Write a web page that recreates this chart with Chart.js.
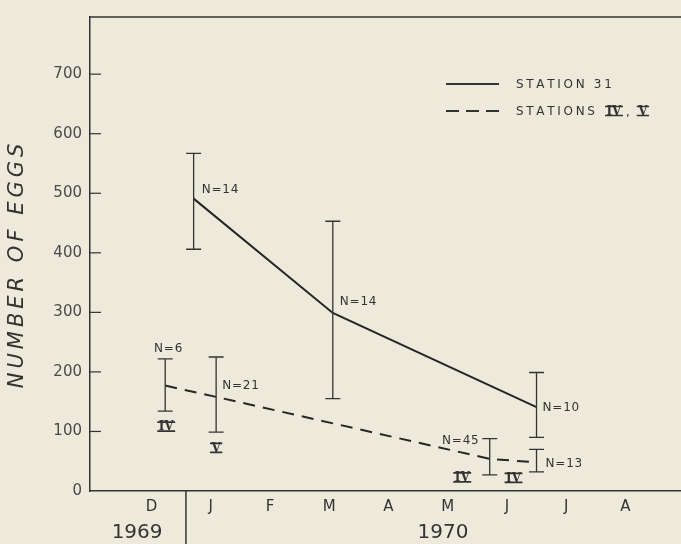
<!DOCTYPE html>
<html>
<head>
<meta charset="utf-8">
<script src="https://cdn.jsdelivr.net/npm/chart.js@4.4.1/dist/chart.umd.min.js"></script>
<style>
  html, body { margin: 0; padding: 0; background: #eeeadb; }
  #wrap { width: 681px; height: 544px; }
</style>
</head>
<body>
<div id="wrap"><canvas id="eggChart" width="681" height="544"></canvas></div>
<script>
// x axis in months, Dec 1969 = 0
const monthLabels = ['D', 'J', 'F', 'M', 'A', 'M', 'J', 'J', 'A'];
const monthTicks = [0, 1, 2, 3, 4, 5, 6, 7, 8];
const yTicks = [0, 100, 200, 300, 400, 500, 600, 700];

// Station 31 (solid line)
const st31X = [0.71, 3.06, 6.50];
const st31Mean = [491, 299, 141];
const st31High = [567, 453, 199];
const st31Low = [406, 155, 90];
const st31N = ['N=14', 'N=14', 'N=10'];

// Stations IV, V (dashed line)
const st45X = [0.23, 1.09, 5.71, 6.50];
const st45Mean = [177, 158, 54, 48];
const st45High = [222, 225, 88, 70];
const st45Low = [134, 99, 27, 32];
const st45N = ['N=6', 'N=21', 'N=45', 'N=13'];
const st45Station = ['IV', 'V', 'IV', 'IV'];

const yearLabels = ['1969', '1970'];
const yearX = [-0.245, 4.92];
const yearBreak = 0.58;

const ink = '#333';

// label placement relative to each point (px)
const st31NPos = [[8, -9, 'left'], [7, -11, 'left'], [6, 1, 'left']];
const st45NPos = [[3, -37, 'center'], [6, -11, 'left'], [-11, -18, 'right'], [9, 1, 'left']];
const st45RomanPos = [[1, 41], [0, 51], [-27.5, 18.5], [-23, 15.5]];

function spacedText(ctx, text, x, y, gap, align) {
    let total = 0;
    for (const ch of text) total += ctx.measureText(ch).width + gap;
    total -= gap;
    let cx = align === 'center' ? x - total / 2 : align === 'right' ? x - total : x;
    ctx.textAlign = 'left';
    for (const ch of text) {
        ctx.fillText(ch, cx, y);
        cx += ctx.measureText(ch).width + gap;
    }
    return total;
}

// roman numeral with bars above and below
function roman(ctx, text, cx, cy) {
    ctx.save();
    ctx.font = 'bold 12px "DejaVu Serif"';
    ctx.textAlign = 'center';
    ctx.textBaseline = 'middle';
    const w = ctx.measureText(text).width;
    ctx.fillText(text, cx, cy + 0.5);
    ctx.lineWidth = 1.6;
    ctx.beginPath();
    ctx.moveTo(cx - w / 2 - 1.5, cy - 4.5);
    ctx.lineTo(cx + w / 2 + 1.5, cy - 4.5);
    ctx.moveTo(cx - w / 2 - 1.5, cy + 4.5);
    ctx.lineTo(cx + w / 2 + 1.5, cy + 4.5);
    ctx.stroke();
    ctx.restore();
    return w + 3;
}

const paperPlugin = {
    id: 'paper',
    beforeDraw(chart) {
        const ctx = chart.ctx;
        ctx.save();
        ctx.fillStyle = '#eeeadb';
        ctx.fillRect(0, 0, chart.width, chart.height);
        ctx.restore();
    },
    afterDraw(chart) {
        const ctx = chart.ctx;
        const xs = chart.scales.x;
        const ys = chart.scales.y;
        const area = chart.chartArea;
        ctx.save();
        ctx.strokeStyle = ink;
        ctx.fillStyle = ink;

        // top frame line
        ctx.lineWidth = 1.5;
        ctx.beginPath();
        ctx.moveTo(area.left, area.top);
        ctx.lineTo(area.right, area.top);
        ctx.stroke();

        // inward y tick marks
        ctx.lineWidth = 1.2;
        yTicks.forEach(v => {
            if (v === 0) return;
            const py = ys.getPixelForValue(v);
            ctx.beginPath();
            ctx.moveTo(area.left, py);
            ctx.lineTo(area.left + 11, py);
            ctx.stroke();
        });

        // error bars
        const bars = (xArr, lo, hi) => {
            xArr.forEach((x, i) => {
                const px = xs.getPixelForValue(x);
                const pl = ys.getPixelForValue(lo[i]);
                const ph = ys.getPixelForValue(hi[i]);
                ctx.beginPath();
                ctx.moveTo(px, pl); ctx.lineTo(px, ph);
                ctx.moveTo(px - 7.5, pl); ctx.lineTo(px + 7.5, pl);
                ctx.moveTo(px - 7.5, ph); ctx.lineTo(px + 7.5, ph);
                ctx.stroke();
            });
        };
        ctx.lineWidth = 1.3;
        bars(st31X, st31Low, st31High);
        bars(st45X, st45Low, st45High);

        // N labels
        ctx.font = '12px "DejaVu Sans"';
        ctx.textBaseline = 'middle';
        const nLabels = (xArr, yArr, texts, pos) => {
            texts.forEach((t, i) => {
                const px = xs.getPixelForValue(xArr[i]);
                const py = ys.getPixelForValue(yArr[i]);
                spacedText(ctx, t, px + pos[i][0], py + pos[i][1], 0.8, pos[i][2]);
            });
        };
        nLabels(st31X, st31Mean, st31N, st31NPos);
        nLabels(st45X, st45Mean, st45N, st45NPos);

        // station numerals under dashed series
        st45Station.forEach((t, i) => {
            const px = xs.getPixelForValue(st45X[i]);
            const py = ys.getPixelForValue(st45Mean[i]);
            roman(ctx, t, px + st45RomanPos[i][0], py + st45RomanPos[i][1]);
        });

        // year separator and year labels
        ctx.lineWidth = 1.5;
        const bx = xs.getPixelForValue(yearBreak);
        ctx.beginPath();
        ctx.moveTo(bx, area.bottom);
        ctx.lineTo(bx, chart.height);
        ctx.stroke();
        ctx.font = '20px "DejaVu Sans"';
        ctx.textAlign = 'center';
        ctx.textBaseline = 'middle';
        yearLabels.forEach((t, i) => {
            ctx.fillText(t, xs.getPixelForValue(yearX[i]), 533);
        });

        // legend
        ctx.lineWidth = 1.8;
        ctx.beginPath();
        ctx.moveTo(446, 84); ctx.lineTo(499, 84);
        ctx.stroke();
        ctx.setLineDash([13, 7]);
        ctx.beginPath();
        ctx.moveTo(446, 111); ctx.lineTo(499, 111);
        ctx.stroke();
        ctx.setLineDash([]);
        ctx.font = '12px "DejaVu Sans"';
        ctx.textBaseline = 'middle';
        spacedText(ctx, chart.data.datasets[0].label, 516, 84.5, 2.7, 'left');
        const w = spacedText(ctx, 'STATIONS', 516, 111.5, 2.7, 'left');
        let lx = 516 + w + 10;
        lx += roman(ctx, 'IV', lx + 9, 111) + 2;
        ctx.font = '12px "DejaVu Sans"';
        ctx.textAlign = 'left';
        ctx.fillText(',', lx + 1, 113);
        roman(ctx, 'V', lx + 18, 111);

        // y axis title
        ctx.translate(18, 266);
        ctx.rotate(-Math.PI / 2);
        ctx.font = 'italic 21px "DejaVu Sans"';
        ctx.textBaseline = 'middle';
        spacedText(ctx, 'NUMBER OF EGGS', 0, 0, 4, 'center');
        ctx.restore();
    }
};

Chart.defaults.font.family = '"DejaVu Sans"';
Chart.defaults.color = ink;

new Chart(document.getElementById('eggChart'), {
    type: 'line',
    data: {
        datasets: [
            {
                label: 'STATION 31',
                data: st31X.map((x, i) => ({ x: x, y: st31Mean[i] })),
                borderColor: '#262626',
                borderWidth: 2,
                pointRadius: 0,
                tension: 0
            },
            {
                label: 'STATIONS IV, V',
                data: st45X.map((x, i) => ({ x: x, y: st45Mean[i] })),
                borderColor: '#262626',
                borderWidth: 2,
                borderDash: [12, 8],
                pointRadius: 0,
                tension: 0
            }
        ]
    },
    options: {
        responsive: false,
        animation: false,
        layout: { padding: { top: 11, right: 0, left: 0, bottom: 0 } },
        plugins: {
            legend: { display: false },
            tooltip: { enabled: false }
        },
        scales: {
            x: {
                type: 'linear',
                min: -1.04,
                max: 8.94,
                grid: { display: false, drawTicks: false },
                border: { display: true, color: ink, width: 1.5 },
                afterBuildTicks: scale => { scale.ticks = monthTicks.map(v => ({ value: v })); },
                afterFit: scale => { scale.height = 53; },
                ticks: {
                    font: { size: 15 },
                    color: ink,
                    padding: 7,
                    maxRotation: 0,
                    autoSkip: false,
                    callback: v => monthLabels[v]
                }
            },
            y: {
                min: 0,
                max: 796,
                grid: { display: false, drawTicks: false },
                border: { display: true, color: ink, width: 1.5 },
                afterBuildTicks: scale => { scale.ticks = yTicks.map(v => ({ value: v })); },
                afterFit: scale => { scale.width = 90; },
                ticks: {
                    font: { size: 15 },
                    color: '#4a4a4a',
                    padding: 8
                }
            }
        }
    },
    plugins: [paperPlugin]
});
</script>
</body>
</html>
